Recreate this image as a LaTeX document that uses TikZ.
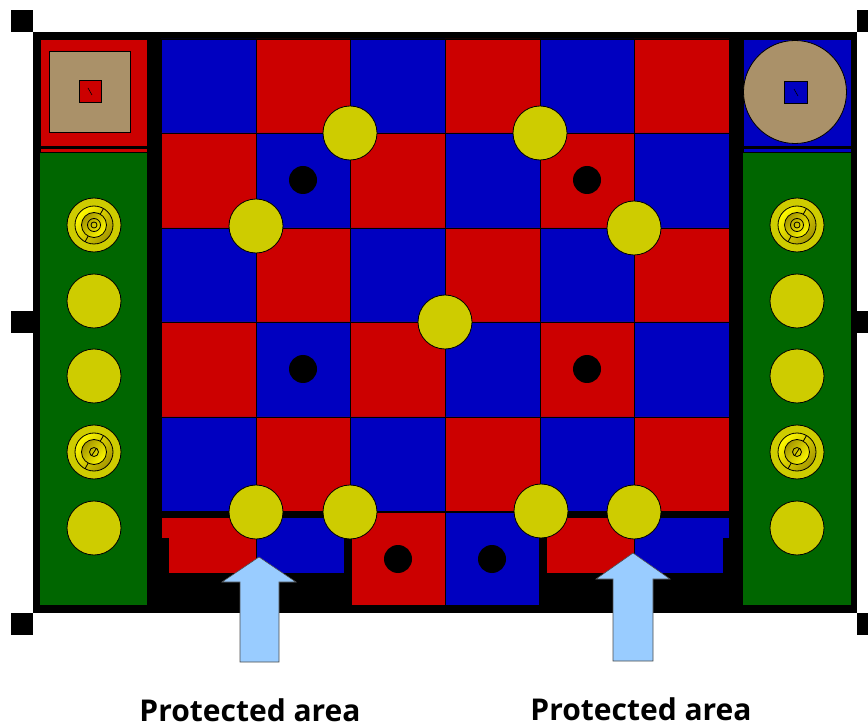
\documentclass[tikz,border=0pt]{standalone}
\usepackage{fontspec}
\setmainfont{Open Sans}
\usepackage{tikz}
\definecolor{cellred}{RGB}{204,0,0}
\definecolor{cellblue}{RGB}{0,0,192}
\definecolor{padgreen}{RGB}{0,102,0}
\definecolor{discyellow}{RGB}{206,204,0}
\definecolor{padtan}{RGB}{170,145,105}
\definecolor{arrowblue}{RGB}{153,204,255}
\definecolor{ringgold}{RGB}{165,150,0}
\definecolor{ringbright}{RGB}{255,250,0}
\newcommand{\targetrings}[1]{%
\shade[top color=ringbright,bottom color=ringgold,shading angle=50] (#1) circle (19);
\shade[top color=ringgold,bottom color=ringbright,shading angle=50] (#1) circle (12.5);
\draw[ringline] (#1) circle (19);
\draw[ringline] (#1) circle (12.5);
\draw[ringline] (#1) ++(118:12.5) -- ++(118:6.5);
\draw[ringline] (#1) ++(-60:12.5) -- ++(-60:6.5);
}
\tikzset{
cornermark/.style={fill=black},
discnode/.style={circle,draw=black,fill=discyellow,line width=0.8pt,minimum size=54,inner sep=0},
holenode/.style={circle,fill=black,minimum size=28,inner sep=0},
ringline/.style={line width=0.8pt},
bluecell/.style={fill=cellblue,draw=black,line width=0.6pt},
redcell/.style={fill=cellred,draw=black,line width=0.6pt},
bigarrow/.style={draw=black!70,fill=arrowblue,line width=0.6pt},
areatext/.style={font=\fontsize{30}{30}\selectfont\bfseries,inner sep=0,anchor=base},
}
\begin{document}
\begin{tikzpicture}[x=1pt,y=-1pt]
\useasboundingbox (0,0) rectangle (868,727);
% frame
\fill (33,32) rectangle (857,613);
\fill[cornermark] (11,10) rectangle (33,32);
\fill[cornermark] (11,311) rectangle (33,333);
\fill[cornermark] (11,613) rectangle (33,635);
\fill[cornermark] (857,10) rectangle (868,32);
\fill[cornermark] (857,311) rectangle (868,333);
\fill[cornermark] (857,613) rectangle (868,635);
% side columns
\filldraw[redcell] (40,39) rectangle (147,146);
\filldraw[redcell] (40,148) rectangle (147,152);
\filldraw[bluecell] (743,39) rectangle (851,146);
\filldraw[bluecell] (743,148) rectangle (851,152);
\fill[padgreen] (40,153) rectangle (147,605);
\fill[padgreen] (743,153) rectangle (851,605);
\filldraw[fill=padtan,line width=0.8pt] (49,51) rectangle (130,132);
\filldraw[fill=padtan,line width=0.8pt] (795,92) circle (51.5);
\filldraw[redcell,line width=0.8pt] (79,80) rectangle (101,102);
\filldraw[bluecell,line width=0.8pt] (784,81) rectangle (807,103);
\draw[line width=0.6pt] (88,88) -- (92,95);
\draw[line width=0.6pt] (794,89) -- (798,96);
% board
\filldraw[bluecell] (161,39) rectangle (256,133) (350,39) rectangle (445,133) (540,39) rectangle (634,133);
\filldraw[redcell] (256,39) rectangle (350,133) (445,39) rectangle (540,133) (634,39) rectangle (729,133);
\filldraw[redcell] (161,133) rectangle (256,228) (350,133) rectangle (445,228) (540,133) rectangle (634,228);
\filldraw[bluecell] (256,133) rectangle (350,228) (445,133) rectangle (540,228) (634,133) rectangle (729,228);
\filldraw[bluecell] (161,228) rectangle (256,322) (350,228) rectangle (445,322) (540,228) rectangle (634,322);
\filldraw[redcell] (256,228) rectangle (350,322) (445,228) rectangle (540,322) (634,228) rectangle (729,322);
\filldraw[redcell] (161,322) rectangle (256,417) (350,322) rectangle (445,417) (540,322) rectangle (634,417);
\filldraw[bluecell] (256,322) rectangle (350,417) (445,322) rectangle (540,417) (634,322) rectangle (729,417);
\filldraw[bluecell] (161,417) rectangle (256,511) (350,417) rectangle (445,511) (540,417) rectangle (634,511);
\filldraw[redcell] (256,417) rectangle (350,511) (445,417) rectangle (540,511) (634,417) rectangle (729,511);
% bottom row
\filldraw[redcell] (161,517) -- (256,517) -- (256,573) -- (168,573) -- (168,538) -- (161,538) -- cycle;
\filldraw[bluecell] (256,517) rectangle (344,573);
\filldraw[redcell] (351,512) rectangle (445,605);
\filldraw[bluecell] (445,512) rectangle (539,605);
\filldraw[redcell] (546,517) rectangle (634,573);
\filldraw[bluecell] (634,517) -- (729,517) -- (729,538) -- (723,538) -- (723,573) -- (634,573) -- cycle;
% holes
\node[holenode] (h1) at (303,180) {};
\node[holenode] (h2) at (587,180) {};
\node[holenode] (h3) at (303,369) {};
\node[holenode] (h4) at (587,369) {};
\node[holenode] (h5) at (398,559) {};
\node[holenode] (h6) at (492,559) {};
% discs on the board
\node[discnode] (d1) at (350,133) {};
\node[discnode] (d2) at (540,133) {};
\node[discnode] (d3) at (256,226) {};
\node[discnode] (d4) at (634,228) {};
\node[discnode] (d5) at (445,322) {};
\node[discnode] (d6) at (256,512) {};
\node[discnode] (d7) at (350,512) {};
\node[discnode] (d8) at (541,511) {};
\node[discnode] (d9) at (634,512) {};
% discs in the side columns
\node[discnode] (l1) at (94,225) {};
\node[discnode] (l2) at (94,301) {};
\node[discnode] (l3) at (94,376) {};
\node[discnode] (l4) at (94,452) {};
\node[discnode] (l5) at (94,528) {};
\node[discnode] (r1) at (797,225) {};
\node[discnode] (r2) at (797,301) {};
\node[discnode] (r3) at (797,376) {};
\node[discnode] (r4) at (797,452) {};
\node[discnode] (r5) at (797,528) {};
\targetrings{l1}
\targetrings{l4}
\targetrings{r1}
\targetrings{r4}
\draw[ringline] (l1) circle (6.5) (l1) circle (3);
\draw[ringline] (r1) circle (6.5) (r1) circle (3);
\draw[ringline] (l4) circle (4.5) (92,455) -- (96,449);
\draw[ringline] (r4) circle (4.5) (795,455) -- (799,449);
% arrows
\filldraw[bigarrow] (259,557) -- (296,582) -- (279,582) -- (279,662) -- (240,662) -- (240,582) -- (222,582) -- cycle;
\filldraw[bigarrow] (633,553) -- (670,579) -- (653,579) -- (653,661) -- (613,661) -- (613,579) -- (596,579) -- cycle;
\node[areatext] (t1) at (250,721) {Protected area};
\node[areatext] (t2) at (641,720) {Protected area};
\end{tikzpicture}
\end{document}
